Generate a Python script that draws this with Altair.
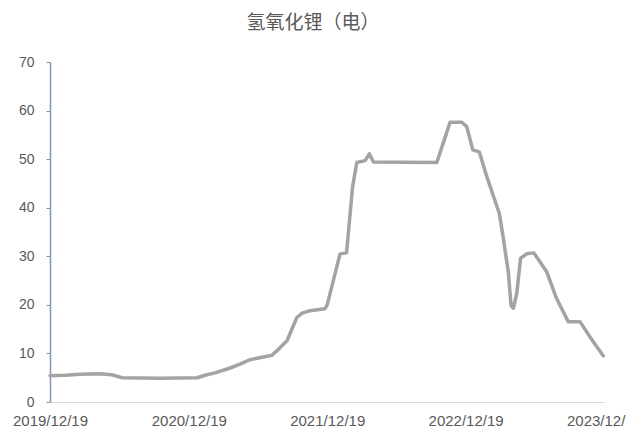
import altair as alt
import pandas as pd

# Battery-grade lithium hydroxide price (万元/吨), sampled along the series
dates = [
    "2019-12-19", "2020-01-28", "2020-03-07", "2020-04-29", "2020-05-30",
    "2020-06-26", "2020-10-04", "2021-01-10", "2021-01-31", "2021-02-26",
    "2021-04-07", "2021-05-03", "2021-05-29", "2021-06-30", "2021-07-26",
    "2021-08-17", "2021-09-04", "2021-09-30", "2021-10-14", "2021-11-04",
    "2021-12-13", "2021-12-19", "2022-01-22", "2022-02-08", "2022-02-24",
    "2022-03-07", "2022-03-29", "2022-04-09", "2022-04-20", "2022-10-04",
    "2022-10-21", "2022-11-08", "2022-12-09", "2022-12-22", "2023-01-07",
    "2023-01-24", "2023-02-13", "2023-03-18", "2023-03-28", "2023-04-11",
    "2023-04-18", "2023-04-24", "2023-05-03", "2023-05-13", "2023-05-29",
    "2023-06-17", "2023-07-21", "2023-08-16", "2023-09-16", "2023-10-17",
    "2023-11-17", "2023-12-17",
]
prices = [
    5.4, 5.5, 5.7, 5.8, 5.6,
    5.0, 4.9, 5.0, 5.5, 6.0,
    7.0, 7.8, 8.7, 9.2, 9.6,
    11.2, 12.6, 17.4, 18.3, 18.8,
    19.2, 20.0, 30.5, 30.7, 44.3,
    49.3, 49.7, 51.1, 49.4, 49.3,
    53.3, 57.6, 57.6, 56.7, 51.9,
    51.5, 46.4, 38.8, 34.0, 26.5,
    19.8, 19.3, 22.4, 29.6, 30.5,
    30.7, 26.8, 21.3, 16.5, 16.5,
    12.8, 9.5,
]
tick_dates = ["2019-12-19", "2020-12-19", "2021-12-19", "2022-12-19", "2023-12-19"]
y_ticks = [0, 10, 20, 30, 40, 50, 60, 70]

df = pd.DataFrame({"date": pd.to_datetime(dates), "price": prices})

label_color = "#595959"

chart = (
    alt.Chart(df)
    .mark_line(color="#a3a3a3", strokeWidth=3.5, strokeJoin="round", strokeCap="round")
    .encode(
        x=alt.X(
            "date:T",
            scale=alt.Scale(domain=["2019-12-19", "2023-12-19"]),
            axis=alt.Axis(
                title=None,
                values=[alt.DateTime(year=int(d[:4]), month=int(d[5:7]), date=int(d[8:])) for d in tick_dates],
                format="%Y/%m/%d",
                grid=False,
                ticks=False,
                domainColor="#d9d9d9",
                domainWidth=1.2,
                labelColor=label_color,
                labelFont="Liberation Sans",
                labelFontSize=15,
                labelPadding=11,
                labelFlush=False,
                labelOverlap=False,
                labelBound=False,
            ),
        ),
        y=alt.Y(
            "price:Q",
            scale=alt.Scale(domain=[0, 70], nice=False),
            axis=alt.Axis(
                title=None,
                values=y_ticks,
                grid=False,
                domainColor="#8496b0",
                domainWidth=1.5,
                tickColor="#8496b0",
                tickSize=4,
                labelColor=label_color,
                labelFont="Liberation Sans",
                labelFontSize=14,
                labelPadding=12,
            ),
        ),
    )
    .properties(
        width=554,
        height=340,
        background="white",
        title=alt.TitleParams(
            "氢氧化锂（电）",
            font="Noto Sans CJK SC",
            fontSize=19,
            fontWeight="normal",
            color=label_color,
            anchor="middle",
            dx=-14,
            offset=22,
        ),
        autosize=alt.AutoSizeParams(type="none"),
        padding={"left": 50, "top": 62, "right": 22, "bottom": 30},
    )
    .configure_view(strokeWidth=0, stroke="transparent")
)

chart.save("out.html", embed_options={"renderer": "svg", "actions": False})
